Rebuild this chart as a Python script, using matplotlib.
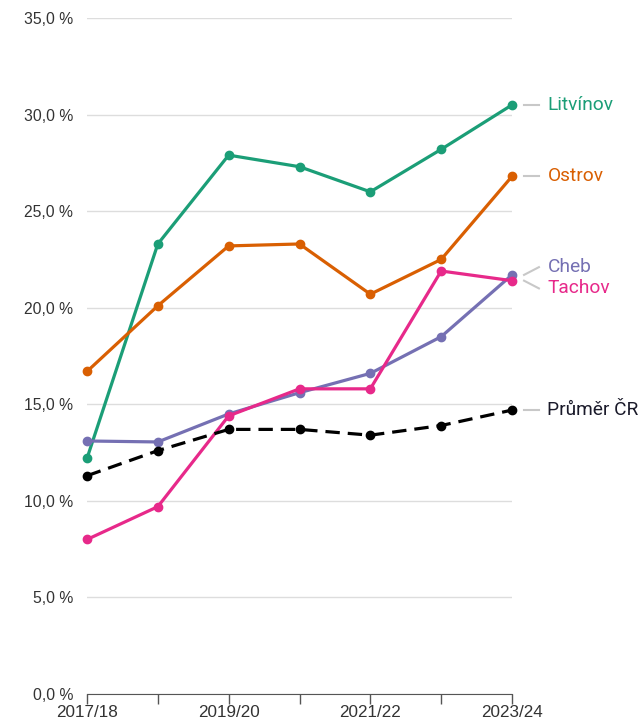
import matplotlib
matplotlib.use("Agg")
import matplotlib.pyplot as plt

years = ["2017/18", "2018/19", "2019/20", "2020/21", "2021/22", "2022/23", "2023/24"]
litvinov = [12.2, 23.3, 27.9, 27.3, 26.0, 28.2, 30.5]
ostrov = [16.7, 20.1, 23.2, 23.3, 20.7, 22.5, 26.8]
cheb = [13.1, 13.05, 14.5, 15.6, 16.6, 18.5, 21.7]
tachov = [8.0, 9.7, 14.4, 15.8, 15.8, 21.9, 21.4]
prumer = [11.3, 12.6, 13.7, 13.7, 13.4, 13.9, 14.7]
yticks = [0, 5, 10, 15, 20, 25, 30, 35]

series = [
    ("Litvínov", litvinov, "#1b9e77", "-"),
    ("Ostrov", ostrov, "#d95f02", "-"),
    ("Cheb", cheb, "#7570b3", "-"),
    ("Tachov", tachov, "#e7298a", "-"),
    ("Průměr ČR", prumer, "#1a1a2a", "--"),
]
label_y = {"Litvínov": 30.5, "Ostrov": 26.8, "Cheb": 22.1, "Tachov": 21.0, "Průměr ČR": 14.7}

fig = plt.figure(figsize=(6.41, 7.27), dpi=100)
ax = fig.add_axes([87/641, 1-694/727, 425/641, 676/727])
x = list(range(len(years)))
for name, vals, col, ls in series:
    lc = "#000000" if ls == "--" else col
    ax.plot(x, vals, color=lc, lw=2.3, ls=ls, marker="o", ms=6, clip_on=False, zorder=3,
            dashes=(4.5, 2.5) if ls == "--" else (None, None))

ax.set_xlim(0, len(years)-1)
ax.set_ylim(0, 35)
ax.set_yticks(yticks)
ax.set_yticklabels([f"{v:.1f}".replace(".", ",") + " %" for v in yticks],
                   fontfamily="Liberation Sans", fontsize=11.3, color="#333333")
ax.set_xticks(x)
ax.set_xticklabels([y if i % 2 == 0 else "" for i, y in enumerate(years)],
                   fontfamily="Liberation Sans", fontsize=12.3, color="#333333")
ax.tick_params(axis="y", length=0, pad=10)
ax.tick_params(axis="x", length=7, width=1, color="#555555", pad=1)
ax.grid(axis="y", color="#dddddd", lw=1)
ax.set_axisbelow(True)
for s in ["top", "right", "left"]:
    ax.spines[s].set_visible(False)
ax.spines["bottom"].set_color("#555555")
ax.spines["bottom"].set_zorder(1)

last = len(years) - 1
for name, vals, col, ls in series:
    ly = label_y[name]
    ax.plot([last + 0.17, last + 0.38], [vals[-1], ly], color="#c8c8c8", lw=1.5, clip_on=False)
    ax.text(last + 0.5, ly, name, color=col, fontsize=13.8, fontfamily="Roboto",
            va="center", ha="left", clip_on=False)

fig.savefig("out.png", dpi=100)
